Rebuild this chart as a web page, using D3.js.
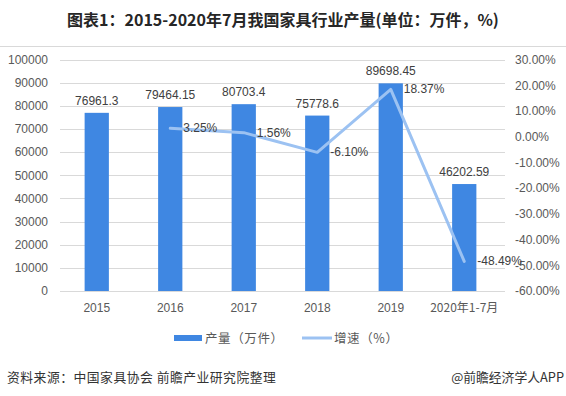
<!DOCTYPE html>
<html>
<head>
<meta charset="utf-8">
<script src="https://cdn.jsdelivr.net/npm/d3@7"></script>
<style>
  body { margin: 0; background: #fff; }
  svg text { font-family: "Liberation Sans", Arial, "Noto Sans CJK SC", sans-serif; }
  .cjk { font-family: "Noto Sans CJK SC", "Microsoft YaHei", sans-serif !important; }
</style>
</head>
<body>
<div id="chart"></div>
<script>
var width = 566;
var height = 396;

var years = ["2015", "2016", "2017", "2018", "2019", "2020年1-7月"];
var output = [76961.3, 79464.15, 80703.4, 75778.6, 89698.45, 46202.59];
var outputLabels = ["76961.3", "79464.15", "80703.4", "75778.6", "89698.45", "46202.59"];
var growth = [null, 3.25, 1.56, -6.10, 18.37, -48.49];
var leftTicks = [0, 10000, 20000, 30000, 40000, 50000, 60000, 70000, 80000, 90000, 100000];
var rightTicks = [-60, -50, -40, -30, -20, -10, 0, 10, 20, 30];

var barColor = "#3f87e2";
var lineColor = "#9cc2f2";
var textColor = "#595959";

var svg = d3.select("#chart").append("svg")
  .attr("width", width)
  .attr("height", height);

// title + separator
svg.append("text")
  .attr("class", "cjk")
  .attr("x", 283).attr("y", 26)
  .attr("text-anchor", "middle")
  .style("font-size", "16px")
  .style("font-weight", "bold")
  .attr("fill", "#262626")
  .text("图表1：2015-2020年7月我国家具行业产量(单位：万件，%)");

svg.append("line")
  .attr("x1", 0).attr("x2", width)
  .attr("y1", 46.5).attr("y2", 46.5)
  .attr("stroke", "#d9d9d9");

var x = d3.scaleBand()
  .domain(years)
  .range([60, 501])
  .paddingInner(0.67)
  .paddingOuter(0.335);

var y = d3.scaleLinear().domain([0, 100000]).range([291, 59.5]);
var y2 = d3.scaleLinear().domain([-60, 30]).range([291, 59.5]);

// gridlines
svg.append("g").selectAll("line")
  .data(leftTicks)
  .enter().append("line")
    .attr("x1", 60).attr("x2", 505)
    .attr("y1", function(d) { return Math.round(y(d)) + 0.5; })
    .attr("y2", function(d) { return Math.round(y(d)) + 0.5; })
    .attr("stroke", "#d9d9d9");

// left axis
var leftAxis = svg.append("g")
  .attr("transform", "translate(60,0)")
  .call(d3.axisLeft(y).tickValues(leftTicks).tickSize(0).tickPadding(12).tickFormat(d3.format("d")));
leftAxis.select(".domain").remove();
leftAxis.selectAll("text").style("font-size", "12px").attr("fill", textColor);

// right axis
var rightAxis = svg.append("g")
  .attr("transform", "translate(505,0)")
  .call(d3.axisRight(y2).tickValues(rightTicks).tickSize(0).tickPadding(10)
    .tickFormat(function(d) { return d.toFixed(2) + "%"; }));
rightAxis.select(".domain").remove();
rightAxis.selectAll("text").style("font-size", "12px").attr("fill", textColor);

// x axis
var xAxis = svg.append("g")
  .attr("transform", "translate(0,291)")
  .call(d3.axisBottom(x).tickSize(0).tickPadding(12));
xAxis.select(".domain").remove();
xAxis.selectAll("text").style("font-size", "12px").attr("fill", textColor)
  .attr("class", function(d) { return d.length > 4 ? "cjk" : null; });

// bars
svg.append("g").selectAll("rect")
  .data(output)
  .enter().append("rect")
    .attr("x", function(d, i) { return x(years[i]); })
    .attr("y", function(d) { return y(d); })
    .attr("width", x.bandwidth())
    .attr("height", function(d) { return y(0) - y(d); })
    .attr("fill", barColor);

svg.append("g").selectAll("text")
  .data(output)
  .enter().append("text")
    .attr("x", function(d, i) { return x(years[i]) + x.bandwidth() / 2; })
    .attr("y", function(d) { return y(d) - 8; })
    .attr("text-anchor", "middle")
    .style("font-size", "12px")
    .attr("fill", "#404040")
    .text(function(d, i) { return outputLabels[i]; });

// growth line
var pts = growth.map(function(d, i) { return {cat: years[i], v: d}; })
  .filter(function(d) { return d.v !== null; });

var line = d3.line()
  .x(function(d) { return x(d.cat) + x.bandwidth() / 2; })
  .y(function(d) { return y2(d.v); });

svg.append("path")
  .datum(pts)
  .attr("d", line)
  .attr("fill", "none")
  .attr("stroke", lineColor)
  .attr("stroke-width", 3)
  .attr("stroke-linejoin", "round")
  .attr("stroke-linecap", "round");

svg.append("g").selectAll("text")
  .data(pts)
  .enter().append("text")
    .attr("x", function(d) { return x(d.cat) + x.bandwidth() / 2 + 13; })
    .attr("y", function(d) { return y2(d.v) + 4; })
    .style("font-size", "12px")
    .attr("fill", "#404040")
    .text(function(d) { return d.v.toFixed(2) + "%"; });

// legend
svg.append("rect")
  .attr("x", 174).attr("y", 335)
  .attr("width", 28).attr("height", 6)
  .attr("fill", barColor);
svg.append("text")
  .attr("class", "cjk")
  .attr("x", 205).attr("y", 343)
  .style("font-size", "12.5px")
  .style("letter-spacing", "0.6px")
  .attr("fill", textColor)
  .text("产量（万件）");
svg.append("line")
  .attr("x1", 302).attr("x2", 332)
  .attr("y1", 338).attr("y2", 338)
  .attr("stroke", lineColor)
  .attr("stroke-width", 3);
svg.append("text")
  .attr("class", "cjk")
  .attr("x", 334).attr("y", 343)
  .style("font-size", "12.5px")
  .style("letter-spacing", "0.6px")
  .attr("fill", textColor)
  .text("增速（%）");

// footer
svg.append("text")
  .attr("class", "cjk")
  .attr("x", 7).attr("y", 382)
  .style("font-size", "12.8px")
  .style("letter-spacing", "0.5px")
  .attr("fill", "#333")
  .text("资料来源：中国家具协会 前瞻产业研究院整理");
svg.append("text")
  .attr("class", "cjk")
  .attr("x", 564).attr("y", 382)
  .attr("text-anchor", "end")
  .style("font-size", "12.8px")
  .attr("fill", "#333")
  .text("@前瞻经济学人APP");
</script>
</body>
</html>
